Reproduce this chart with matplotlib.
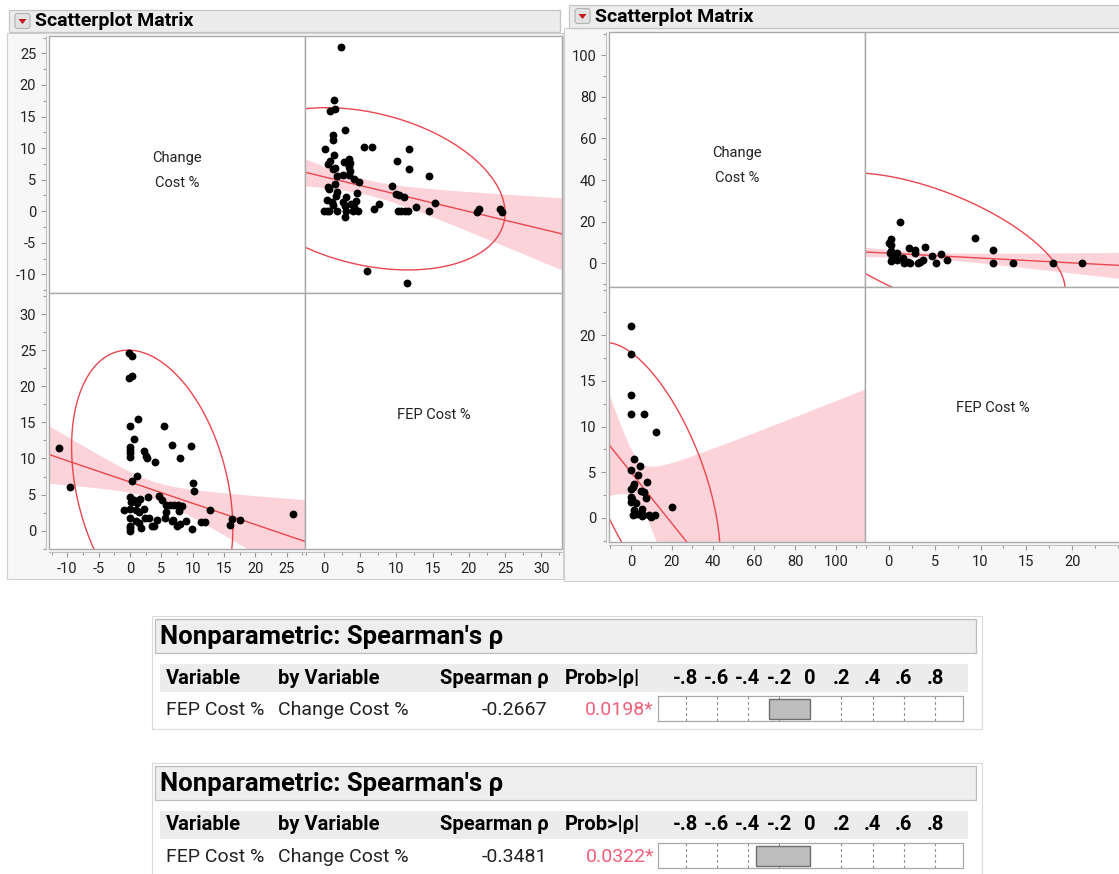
import numpy as np
import matplotlib
matplotlib.use("Agg")
import matplotlib.pyplot as plt
from matplotlib.patches import Rectangle, FancyBboxPatch, Polygon
from matplotlib.ticker import FixedLocator, MultipleLocator
from matplotlib.transforms import blended_transform_factory

plt.rcParams['font.family'] = ['Roboto', 'DejaVu Sans']
plt.rcParams['axes.unicode_minus'] = False

# ---------------- data: left scatterplot matrix ----------------
fep_L = [2.3, 1.45, 0.8, 1.55, 2.9, 1.2, 1.2, 0.2, 5.5, 6.6, 11.7, 1.4, 0.6, 0.9, 2.7,
         10.1, 1.3, 1.5, 11.8, 3.5, 3.6, 3.5, 3.6, 3.4, 1.75, 14.55, 4.2, 4.8, 2.6, 1.5,
         0.6, 0.7, 9.45, 1.8, 1.7, 4.6, 10.0, 10.35, 11.0, 3.0, 0.4, 1.1, 1.3, 2.6, 3.8,
         4.4, 7.55, 15.4, 12.66, 21.35, 21.2, 24.25, 24.6, 0.0, 0.35, 0.7, 1.75, 3.0, 4.0,
         4.7, 10.2, 10.7, 11.2, 11.6, 14.5, 2.9, 6.0, 11.5, 6.9, 2.9, 4.2]
change_L = [26.0, 17.6, 15.9, 16.2, 12.8, 12.0, 11.3, 9.9, 10.2, 10.1, 9.8, 8.9, 7.5, 8.0, 7.8,
            7.9, 6.7, 6.9, 6.75, 5.8, 6.4, 7.0, 7.6, 8.3, 5.65, 5.5, 5.1, 4.7, 5.8, 4.3,
            3.9, 3.5, 4.05, 3.0, 2.4, 2.85, 2.7, 2.5, 2.2, 2.2, 1.7, 1.5, 1.0, 1.4, 1.2,
            1.6, 1.2, 1.35, 0.7, 0.3, -0.1, 0.3, -0.1, 0.0, 0.0, 0.0, 0.0, 0.0, 0.1,
            0.0, 0.0, 0.0, 0.0, 0.0, 0.0, -0.9, -9.5, -11.3, 0.3, 0.9, 0.7]

# ---------------- data: right scatterplot matrix ----------------
fep_R = [21.0, 17.9, 13.5, 11.35, 11.4, 9.4, 6.4, 5.7, 5.2, 4.7, 3.9, 3.7, 3.4, 3.2, 2.9,
         2.85, 2.2, 2.3, 2.1, 1.7, 1.6, 0.95, 1.2, 0.9, 0.3, 0.37, 0.15, 0.3, 0.3, 0.05, 0.3]
change_R = [0.2, 0.2, 0.2, 0.2, 6.2, 12.0, 1.5, 4.4, 0.2, 3.4, 7.8, 1.5, 0.8, 0.0, 5.0,
            6.5, 7.3, 0.0, 0.5, 0.2, 2.4, 5.2, 19.8, 1.5, 1.2, 2.8, 5.2, 5.9, 8.8, 9.9, 11.5]

# fitted overlays (density ellipse, fit line + mean confidence band)
ellipse_L = dict(mx=3.55, my=5.94, ax=12.85, ay=19.06, r=-0.297)      # x=Change, y=FEP
fit_fep_on_change_L = dict(a=6.74, b=-0.295, m=3.5, h0=1.2, g=0.232)
fit_change_on_fep_L = dict(a=5.45, b=-0.275, m=5.9, h0=1.2, g=0.207)
ellipse_R = dict(mx=8.8, my=4.7, ax=34.7, ay=14.5, r=-0.6)
fit_fep_on_change_R = dict(a=4.99, b=-0.281, m=3.0, h0=2.3, g=0.37)
fit_change_on_fep_R = dict(a=4.855, b=-0.232, m=3.5, h0=1.5, g=0.28)

# axis ranges / ticks
change_lim_L_y = (-13.0, 27.75); change_lim_L_x = (-12.9, 27.95)
fep_lim_L = (-2.58, 32.87)
change_ticks_L = [-10, -5, 0, 5, 10, 15, 20, 25]
fep_ticks_L = [0, 5, 10, 15, 20, 25, 30]
change_lim_R_y = (-11.5, 111.2); change_lim_R_x = (-10.7, 114.3)
fep_lim_R = (-2.55, 25.3); fep_lim_R_y = (-2.69, 25.26)
change_ticks_R = [0, 20, 40, 60, 80, 100]
fep_ticks_R = [0, 5, 10, 15, 20]

# Spearman tables
spearman_rho = [-0.2667, -0.3481]
spearman_p = ["0.0198*", "0.0322*"]
bar_ticks = [-0.8, -0.6, -0.4, -0.2, 0, 0.2, 0.4, 0.6, 0.8]
bar_tick_labels = ["-.8", "-.6", "-.4", "-.2", "0", ".2", ".4", ".6", ".8"]

RED = '#e8474f'
BAND = '#fcd3d9'

W, H = 1119, 874
fig = plt.figure(figsize=(W / 100, H / 100), dpi=100)
fig.patch.set_facecolor('white')
bg = fig.add_axes([0, 0, 1, 1])
bg.set_xlim(0, W); bg.set_ylim(H, 0); bg.axis('off')
bg.set_zorder(-5)


def fbox(x0, y0, x1, y1):
    return [x0 / W, 1 - y1 / H, (x1 - x0) / W, (y1 - y0) / H]


def ftext(x, y, s, **kw):
    # text placed in pixel coordinates, drawn above all axes
    return fig.text(x, y, s, transform=bg.transData, zorder=50, **kw)


def header(x0, y0, x1, y1, title):
    bg.add_patch(Rectangle((x0, y0), x1 - x0, y1 - y0, fc='#ececec', ec='#c4c4c4', lw=0.9))
    bx, by = x0 + 6, y0 + 3.5
    bg.add_patch(FancyBboxPatch((bx, by), 15, 15, boxstyle='round,pad=0,rounding_size=2.5',
                                fc='#e2e2e2', ec='#b2b2b2', lw=0.8))
    bg.add_patch(Polygon([(bx + 3.5, by + 5.5), (bx + 11.5, by + 5.5), (bx + 7.5, by + 10.5)],
                         closed=True, fc='#c4161c', ec='none'))
    bg.text(x0 + 26, (y0 + y1) / 2 + 0.5, title, fontsize=14, fontweight='bold',
            va='center', ha='left', color='black')


def cell(px, xlim, ylim, xt=None, yt=None, xminor=None, yminor=None):
    ax = fig.add_axes(fbox(*px))
    ax.set_xlim(xlim); ax.set_ylim(ylim)
    ax.set_facecolor('white')
    for s in ax.spines.values():
        s.set_visible(False)
    ax.add_patch(Rectangle((0, 0), 1, 1, transform=ax.transAxes, fill=False, ec='#a9a9a9',
                           lw=1.0, clip_on=False, zorder=10))
    if xt is not None:
        sp = ax.spines['bottom']
        sp.set_visible(True); sp.set_position(('outward', 2.2)); sp.set_color('#c0c0c0'); sp.set_linewidth(0.8)
        ax.xaxis.set_major_locator(FixedLocator(xt))
        ax.xaxis.set_minor_locator(MultipleLocator(xminor))
        ax.tick_params(axis='x', which='major', length=3.8, width=0.8, color='#9a9a9a', pad=3.2,
                       labelsize=10.5, labelcolor='#222222')
        ax.tick_params(axis='x', which='minor', length=2.2, width=0.8, color='#9a9a9a')
    else:
        ax.set_xticks([])
    if yt is not None:
        sp = ax.spines['left']
        sp.set_visible(True); sp.set_position(('outward', 2.2)); sp.set_color('#c0c0c0'); sp.set_linewidth(0.8)
        ax.yaxis.set_major_locator(FixedLocator(yt))
        ax.yaxis.set_minor_locator(MultipleLocator(yminor))
        ax.tick_params(axis='y', which='major', length=3.8, width=0.8, color='#9a9a9a', pad=3.2,
                       labelsize=10.5, labelcolor='#222222')
        ax.tick_params(axis='y', which='minor', length=2.2, width=0.8, color='#9a9a9a')
    else:
        ax.set_yticks([])
    return ax


def band(ax, fit, lim):
    xs = np.linspace(lim[0], lim[1], 300)
    yf = fit['a'] + fit['b'] * xs
    hw = np.sqrt(fit['h0'] ** 2 + fit['g'] ** 2 * (xs - fit['m']) ** 2)
    ax.fill_between(xs, yf - hw, yf + hw, color=BAND, lw=0, zorder=1)
    ax.plot(xs, yf, color=RED, lw=1.0, zorder=3)


def ellipse(ax, e, transpose=False):
    t = np.linspace(0, 2 * np.pi, 500)
    ex = e['mx'] + e['ax'] * np.cos(t)
    ey = e['my'] + e['ay'] * (e['r'] * np.cos(t) + np.sqrt(1 - e['r'] ** 2) * np.sin(t))
    if transpose:
        ex, ey = ey, ex
    ax.plot(ex, ey, color=RED, lw=1.0, zorder=2)


def points(ax, x, y):
    ax.scatter(x, y, s=32, c='black', lw=0, zorder=5)


# ---------------- panel backgrounds ----------------
bg.add_patch(Rectangle((7, 33), 556, 546, fc='#f7f7f7', ec='#d0d0d0', lw=0.8))
bg.add_patch(Rectangle((564, 28), 560, 553, fc='#f7f7f7', ec='#d0d0d0', lw=0.8))
header(9, 10, 560, 32, 'Scatterplot Matrix')
header(569, 5, 1125, 28, 'Scatterplot Matrix')

# ---------------- left matrix ----------------
c1x0, c1x1, c2x1 = 49, 305.3, 562
r1y0, r1y1, r2y1 = 36, 293.3, 549.3
axTL = cell((c1x0, r1y0, c1x1, r1y1), (0, 1), change_lim_L_y, yt=change_ticks_L, yminor=2.5)
axTR = cell((c1x1, r1y0, c2x1, r1y1), fep_lim_L, change_lim_L_y)
axBL = cell((c1x0, r1y1, c1x1, r2y1), change_lim_L_x, fep_lim_L,
            xt=change_ticks_L, yt=fep_ticks_L, xminor=2.5, yminor=2.5)
axBR = cell((c1x1, r1y1, c2x1, r2y1), fep_lim_L, (0, 1), xt=fep_ticks_L, xminor=2.5)

band(axTR, fit_change_on_fep_L, fep_lim_L)
ellipse(axTR, ellipse_L, transpose=True)
points(axTR, fep_L, change_L)
band(axBL, fit_fep_on_change_L, change_lim_L_x)
ellipse(axBL, ellipse_L)
points(axBL, change_L, fep_L)

lab = dict(fontsize=10.5, ha='center', va='center', color='#222222')
cx = (c1x0 + c1x1) / 2; cy = (r1y0 + r1y1) / 2
ftext(cx, cy - 6.5, 'Change', **lab)
ftext(cx, cy + 18.5, 'Cost %', **lab)
ftext((c1x1 + c2x1) / 2, (r1y1 + r2y1) / 2 - 6.5, 'FEP Cost %', **lab)

# ---------------- right matrix ----------------
d1x0, d1x1, d2x1 = 609, 865.3, 1121
s1y0, s1y1, s2y1 = 31.7, 287.3, 542.3
bxTL = cell((d1x0, s1y0, d1x1, s1y1), (0, 1), change_lim_R_y, yt=change_ticks_R, yminor=10)
bxTR = cell((d1x1, s1y0, d2x1, s1y1), fep_lim_R, change_lim_R_y)
bxBL = cell((d1x0, s1y1, d1x1, s2y1), change_lim_R_x, fep_lim_R_y,
            xt=change_ticks_R, yt=fep_ticks_R, xminor=10, yminor=2.5)
bxBR = cell((d1x1, s1y1, d2x1, s2y1), fep_lim_R, (0, 1), xt=fep_ticks_R, xminor=2.5)

band(bxTR, fit_change_on_fep_R, fep_lim_R)
ellipse(bxTR, ellipse_R, transpose=True)
points(bxTR, fep_R, change_R)
band(bxBL, fit_fep_on_change_R, change_lim_R_x)
ellipse(bxBL, ellipse_R)
points(bxBL, change_R, fep_R)

cx = (d1x0 + d1x1) / 2; cy = (s1y0 + s1y1) / 2
ftext(cx, cy - 6.5, 'Change', **lab)
ftext(cx, cy + 18.5, 'Cost %', **lab)
ftext(992.5, (s1y1 + s2y1) / 2 - 6.5, 'FEP Cost %', **lab)

# ---------------- Spearman tables ----------------
def table(off, rho, pval):
    bg.add_patch(Rectangle((152, 616 + off), 830, 113, fc='white', ec='#dadada', lw=0.8))
    bg.add_patch(Rectangle((155, 619 + off), 821, 34, fc='#eeeeee', ec='#bdbdbd', lw=0.9))
    bg.text(160, 637 + off, "Nonparametric: Spearman's ρ", fontsize=18.5, fontweight='bold',
            va='center', ha='left', color='black')
    bg.add_patch(Rectangle((160, 664 + off), 808, 28, fc='#ececec', ec='none'))
    hy = 678 + off
    kw = dict(fontsize=14.5, fontweight='bold', va='center', color='black')
    bg.text(166, hy, 'Variable', ha='left', **kw)
    bg.text(278, hy, 'by Variable', ha='left', **kw)
    bg.text(549, hy, 'Spearman ρ', ha='right', **kw)
    bg.text(565, hy, 'Prob>|ρ|', ha='left', **kw)
    dy = 710 + off
    kd = dict(fontsize=14, va='center')
    bg.text(166, dy, 'FEP Cost %', ha='left', color='#222222', **kd)
    bg.text(278, dy, 'Change Cost %', ha='left', color='#222222', **kd)
    bg.text(547, dy, f'{rho:.4f}', ha='right', color='#222222', **kd)
    bg.text(654, dy, pval, ha='right', color='#f0607a', **kd)

    bax = fig.add_axes(fbox(657.6, 696 + off, 963, 721 + off))
    bax.set_xlim(-0.98, 0.98); bax.set_ylim(0, 1)
    bax.set_xticks([]); bax.set_yticks([])
    for s in bax.spines.values():
        s.set_color('#a8a8a8'); s.set_linewidth(0.9)
    for v in bar_ticks:
        if v != 0:
            bax.axvline(v, color='#8a8a8a', lw=0.8, ls=(0, (2.5, 2.5)), zorder=1)
    bax.barh(0.5, rho, left=0, height=0.8, color='#bdbdbd', ec='#6e6e6e', lw=1.0, zorder=2)
    tr = blended_transform_factory(bax.transData, bg.transData)
    for v, lb in zip(bar_ticks, bar_tick_labels):
        fig.text(v, hy, lb, transform=tr, ha='center', zorder=50, **kw)


table(0, spearman_rho[0], spearman_p[0])
table(147, spearman_rho[1], spearman_p[1])

fig.savefig('out.png', dpi=100, facecolor='white')
